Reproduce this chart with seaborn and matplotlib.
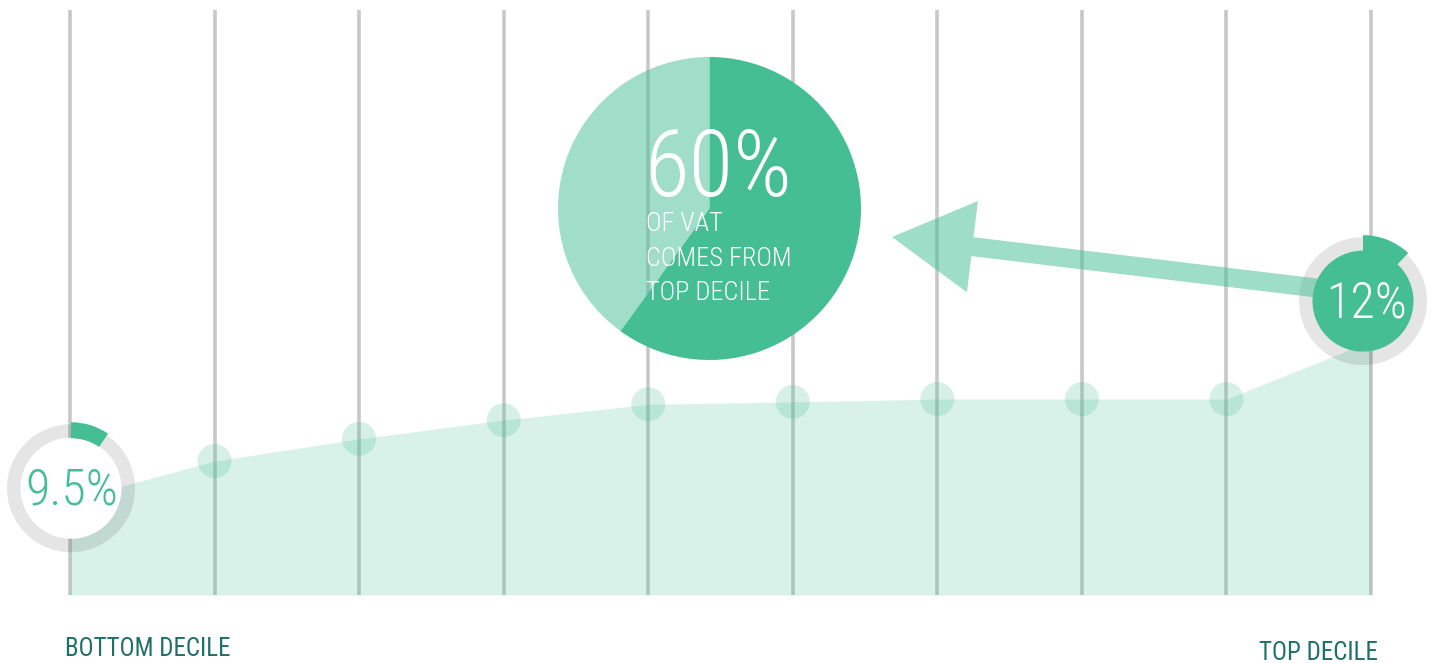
import matplotlib
matplotlib.use("Agg")
import matplotlib.pyplot as plt
import matplotlib.patches as mpatches
import matplotlib.transforms as mtransforms
import pandas as pd
import seaborn as sns

# ---- data -------------------------------------------------------------
deciles = list(range(1, 11))
vat_burden = [16.2, 22.9, 26.7, 29.9, 32.6, 33.0, 33.5, 33.5, 33.5, 43.4]
bottom_share = 9.5      # % shown on the bottom-decile dial
top_share = 12          # % shown on the top-decile dial
top_decile_vat = 60     # % of all VAT paid by the top decile
end_labels = ["BOTTOM DECILE", "TOP DECILE"]
pie_lines = ["OF VAT", "COMES FROM", "TOP DECILE"]

# ---- style ------------------------------------------------------------
GREEN = "#45BE94"
TEAL = "#1F6F6B"
LINE_GREY = "#C8C8C8"
W, H = 1444, 663

sns.set_theme(style="white")
FONT = ["Roboto Condensed", "Liberation Sans Narrow", "Liberation Sans", "DejaVu Sans"]
plt.rcParams["font.family"] = FONT

df = pd.DataFrame({"decile": deciles, "burden": vat_burden})
df["pos"] = range(len(df))

fig = plt.figure(figsize=(W / 100, H / 100), dpi=100)
fig.patch.set_facecolor("white")
ax = fig.add_axes([0, 0, 1, 1])
ax.set_xlim(-0.4842, 9.505)
ax.set_ylim(-11.62, 101.71)
ax.axis("off")

# decile guide lines
ax.vlines(df["pos"], 0, 100, color=LINE_GREY, lw=2.6, zorder=1)

# burden area and decile markers
ax.fill_between(df["pos"], df["burden"], 0, color=GREEN, alpha=0.2, lw=0, zorder=2)
sns.scatterplot(data=df.iloc[1:-1], x="pos", y="burden", s=600, color=GREEN,
                alpha=0.22, edgecolor="none", legend=False, ax=ax, zorder=3)


def anchored(x, y, dx, dy):
    """Pixel-unit transform centred dx, dy pixels away from a data point."""
    return mtransforms.Affine2D().translate(dx, dy) + \
        mtransforms.ScaledTranslation(x, y, ax.transData)


def at_pixel(px, py):
    """Pixel-unit transform centred on a pixel position (origin top-left)."""
    return mtransforms.Affine2D().translate(px, H - py)


def dial(trans, share, filled, z):
    ax.add_patch(mpatches.Wedge((0, 0), 64, 0, 360, width=14, facecolor="black",
                                alpha=0.1, lw=0, transform=trans, zorder=z, clip_on=False))
    face = GREEN if filled else "white"
    ax.add_patch(mpatches.Circle((0, 0), 50.5, facecolor=face, lw=0,
                                 transform=trans, zorder=z + 2, clip_on=False))
    sweep = 360 * share / 100
    ax.add_patch(mpatches.Wedge((0, 0), 66, 90 - sweep, 90, width=16, facecolor=GREEN,
                                lw=0, transform=trans, zorder=z + 2, clip_on=False))


# bottom decile dial
t_bottom = anchored(df["pos"].iloc[0], df["burden"].iloc[0], 1, 12)
dial(t_bottom, bottom_share, False, 5)
ax.text(1, -16, f"{bottom_share:g}%", transform=t_bottom, ha="center", va="baseline",
        fontsize=36, fontweight="light", color=GREEN, zorder=9)

# top decile dial
t_top = anchored(df["pos"].iloc[-1], df["burden"].iloc[-1], -8, 40)
dial(t_top, top_share, True, 5)
ax.text(4, -16, f"{top_share:g}%", transform=t_top, ha="center", va="baseline",
        fontsize=36, fontweight="light", color="white", zorder=9)

# arrow from the top decile dial to the pie
arrow_t = mtransforms.Affine2D().scale(1, -1).translate(0, H)
tail, tip = (1350, 292), (892, 237)
ax.add_patch(mpatches.FancyArrow(tail[0], tail[1], tip[0] - tail[0], tip[1] - tail[1],
                                 width=19, head_width=92, head_length=81,
                                 length_includes_head=True, facecolor=GREEN, alpha=0.52,
                                 lw=0, transform=arrow_t, zorder=6, clip_on=False))

# share of VAT from the top decile
t_pie = at_pixel(709.5, 208.5)
sweep = 360 * top_decile_vat / 100
ax.add_patch(mpatches.Wedge((0, 0), 151.5, 90 - sweep, 90, facecolor=GREEN, lw=0,
                            transform=t_pie, zorder=4, clip_on=False))
ax.add_patch(mpatches.Wedge((0, 0), 151.5, 90, 450 - sweep, facecolor=GREEN, alpha=0.5,
                            lw=0, transform=t_pie, zorder=4, clip_on=False))
ax.text(-65, 12.5, f"{top_decile_vat}%", transform=t_pie, ha="left", va="baseline",
        fontsize=66, fontweight="light", color="white", zorder=9)
for i, line in enumerate(pie_lines):
    ax.text(-64, -22.5 - 34.5 * i, line, transform=t_pie, ha="left", va="baseline",
            fontsize=19, fontweight="light", color="white", zorder=9)

# end labels
fig.text(65 / W, 1 - 656 / H, end_labels[0], ha="left", va="baseline",
         fontsize=18, color=TEAL)
fig.text(1378 / W, 1 - 660 / H, end_labels[1], ha="right", va="baseline",
         fontsize=18, color=TEAL)

fig.savefig("out.png", dpi=100, facecolor="white")
